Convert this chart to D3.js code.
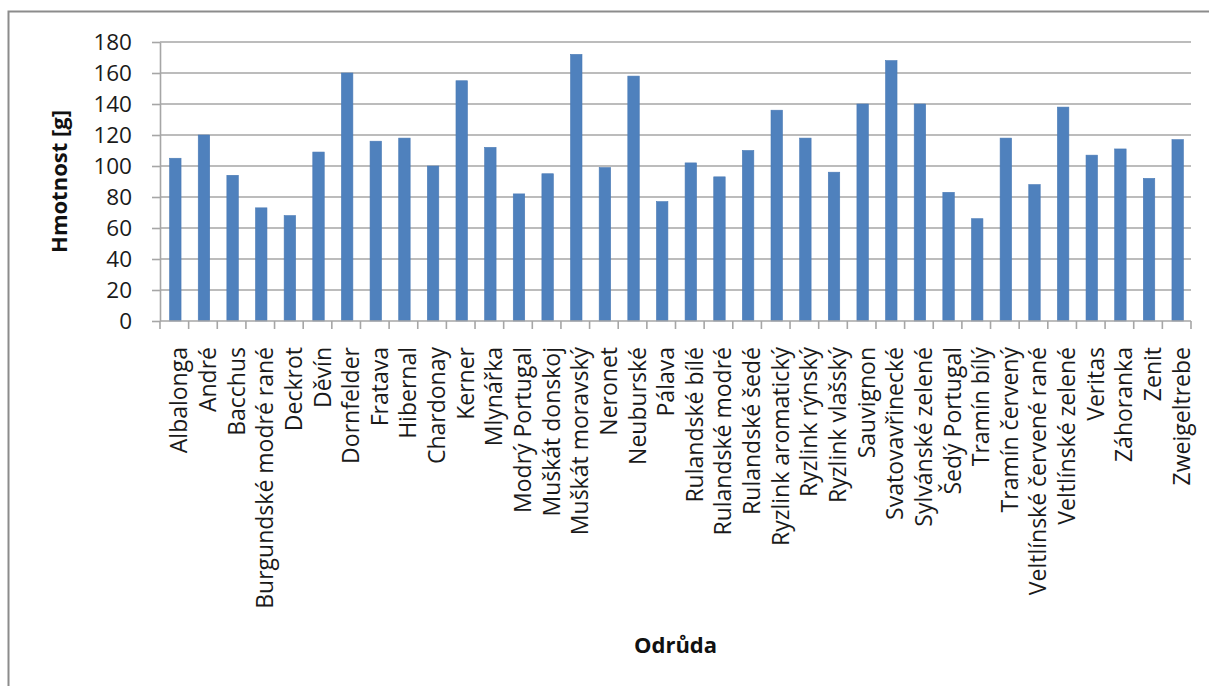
<!DOCTYPE html>
<html>
<head>
<meta charset="utf-8">
<script src="https://cdn.jsdelivr.net/npm/d3@7"></script>
<style>
  html, body { margin: 0; padding: 0; background: #fff; }
  svg { display: block; }
</style>
</head>
<body>
<svg id="chart" width="1209" height="686"></svg>
<script>
const categories = ["Albalonga","André","Bacchus","Burgundské modré rané","Deckrot","Děvín","Dornfelder","Fratava","Hibernal","Chardonay","Kerner","Mlynářka","Modrý Portugal","Muškát donskoj","Muškát moravský","Neronet","Neuburské","Pálava","Rulandské bílé","Rulandské modré","Rulandské šedé","Ryzlink aromatický","Ryzlink rýnský","Ryzlink vlašský","Sauvignon","Svatovavřinecké","Sylvánské zelené","Šedý Portugal","Tramín bílý","Tramín červený","Veltlínské červené rané","Veltlínské zelené","Veritas","Záhoranka","Zenit","Zweigeltrebe"];
const values = [105,120,94,73,68,109,160,116,118,100,155,112,82,95,172,99,158,77,102,93,110,136,118,96,140,168,140,83,66,118,88,138,107,111,92,117];
const yTicks = [0,20,40,60,80,100,120,140,160,180];
const yTitle = "Hmotnost [g]";
const xTitle = "Odrůda";

(function () {
const svg = d3.select("#chart");
const pLeft = 160, pRight = 1191, pTop = 42, pBottom = 321;
const font = "'Open Sans', sans-serif";
const gridColor = "#a6a6a6";

// outer frame (left and top edges)
svg.append("path")
  .attr("d", "M8.5,686 L8.5,11.5 L1209,11.5")
  .attr("fill", "none").attr("stroke", "#8c8c8c").attr("stroke-width", 2);

const x = d3.scaleBand().domain(categories).range([pLeft, pRight]).paddingInner(0.6).paddingOuter(0.3);
const xb = d3.scaleBand().domain(categories).range([pLeft, pRight]);
const y = d3.scaleLinear().domain([0, 180]).range([pBottom, pTop]);

// gridlines
svg.append("g").selectAll("line").data(yTicks.filter(d => d > 0)).join("line")
  .attr("x1", pLeft).attr("x2", pRight)
  .attr("y1", d => y(d)).attr("y2", d => y(d))
  .attr("stroke", gridColor).attr("stroke-width", 1.6);

// y axis
const yAxis = svg.append("g").attr("transform", `translate(${pLeft},0)`)
  .call(d3.axisLeft(y).tickValues(yTicks).tickSize(8).tickPadding(20).tickSizeOuter(0));
yAxis.select(".domain").attr("stroke", gridColor).attr("stroke-width", 1.6);
yAxis.selectAll(".tick line").attr("stroke", gridColor).attr("stroke-width", 1.6);
yAxis.selectAll(".tick text").attr("font-family", font).attr("font-size", 22.5).attr("fill", "#1a1a1a").attr("dy", "0.34em");

// bars
svg.append("g").selectAll("rect").data(values).join("rect")
  .attr("x", (d, i) => x(categories[i]) + 1)
  .attr("width", x.bandwidth())
  .attr("y", d => y(d))
  .attr("height", d => y(0) - y(d))
  .attr("fill", "#4f81bd")
  .attr("stroke", "#4a7ab5").attr("stroke-width", 0.6);

// x axis line and ticks at band boundaries
const xAxisG = svg.append("g");
xAxisG.append("line").attr("x1", pLeft).attr("x2", pRight).attr("y1", pBottom).attr("y2", pBottom)
  .attr("stroke", gridColor).attr("stroke-width", 1.6);
const bounds = categories.map(c => xb(c)).concat([pRight]);
xAxisG.selectAll("line.tk").data(bounds).join("line").attr("class", "tk")
  .attr("x1", d => d).attr("x2", d => d).attr("y1", pBottom).attr("y2", pBottom + 8)
  .attr("stroke", gridColor).attr("stroke-width", 1.6);

// category labels
svg.append("g").selectAll("text").data(categories).join("text")
  .attr("transform", d => `translate(${xb(d) + xb.bandwidth() / 2 + 13},${pBottom + 26}) rotate(-90)`)
  .attr("text-anchor", "end")
  .attr("font-family", font).attr("font-size", 23).attr("fill", "#1a1a1a")
  .text(d => d);

// axis titles
svg.append("text")
  .attr("transform", `translate(67,${(pTop + pBottom) / 2}) rotate(-90)`)
  .attr("text-anchor", "middle")
  .attr("font-family", font).attr("font-weight", "bold").attr("font-size", 22).attr("fill", "#111")
  .text(yTitle);

svg.append("text")
  .attr("x", (pLeft + pRight) / 2).attr("y", 653)
  .attr("text-anchor", "middle")
  .attr("font-family", font).attr("font-weight", "bold").attr("font-size", 22).attr("fill", "#111")
  .text(xTitle);
})();
</script>
</body>
</html>
